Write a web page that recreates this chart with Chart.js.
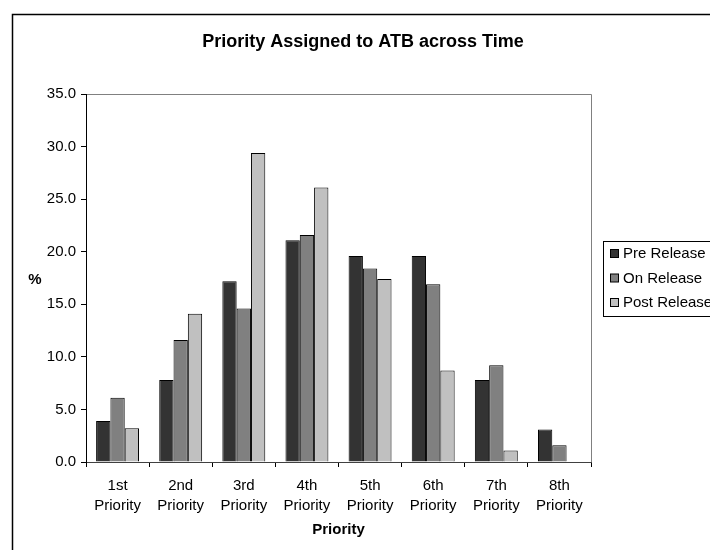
<!DOCTYPE html>
<html>
<head>
<meta charset="utf-8">
<script src="https://cdn.jsdelivr.net/npm/chart.js@4"></script>
<style>
  body { margin: 0; background: #fff; }
  canvas { display: block; }
</style>
</head>
<body>
<canvas id="grafico" width="710" height="550"></canvas>
<script>
const categorias = [
    ['1st', 'Priority'], ['2nd', 'Priority'], ['3rd', 'Priority'], ['4th', 'Priority'],
    ['5th', 'Priority'], ['6th', 'Priority'], ['7th', 'Priority'], ['8th', 'Priority']
];
const preRelease  = [3.9, 7.8, 17.2, 21.1, 19.6, 19.6, 7.8, 3.1];
const onRelease   = [6.1, 11.6, 14.6, 21.6, 18.4, 16.9, 9.2, 1.6];
const postRelease = [3.2, 14.1, 29.4, 26.1, 17.4, 8.7, 1.1, 0];
const nomesSeries = ['Pre Release', 'On Release', 'Post Release'];
const coresSeries = ['#333333', '#808080', '#c0c0c0'];

const fonte = 'Liberation Sans, Arial, sans-serif';

// bordas, titulos e legenda desenhados a mao
const extras = {
    id: 'extras',
    beforeDraw(chart) {
        const c = chart.ctx;
        const a = chart.chartArea;
        c.save();
        c.fillStyle = '#fff';
        c.fillRect(0, 0, chart.width, chart.height);
        // moldura externa
        c.strokeStyle = '#000';
        c.lineWidth = 1.5;
        c.strokeRect(12.5, 14.5, 760, 600);
        // moldura da area do grafico (topo e direita)
        c.strokeStyle = '#808080';
        c.lineWidth = 1;
        c.beginPath();
        c.moveTo(a.left, a.top + 0.5);
        c.lineTo(a.right + 0.5, a.top + 0.5);
        c.lineTo(a.right + 0.5, a.bottom);
        c.stroke();
        c.restore();
    },
    afterDraw(chart) {
        const c = chart.ctx;
        const a = chart.chartArea;
        c.save();
        c.fillStyle = '#000';
        c.textAlign = 'center';
        c.textBaseline = 'middle';
        c.font = 'bold 18px ' + fonte;
        c.fillText('Priority Assigned to ATB across Time', 363, 42);
        c.font = 'bold 15px ' + fonte;
        c.fillText('%', 35, 280);
        c.fillText('Priority', (a.left + a.right) / 2, 530);

        // legenda
        c.strokeStyle = '#000';
        c.lineWidth = 1;
        c.strokeRect(603.5, 241.5, 130, 75);
        c.font = '15px ' + fonte;
        c.textAlign = 'left';
        chart.data.datasets.forEach((ds, i) => {
            const y = 254 + i * 24.5;
            c.fillStyle = ds.backgroundColor;
            c.fillRect(610.5, y - 4.5, 8, 8);
            c.strokeRect(610.5, y - 4.5, 8, 8);
            c.fillStyle = '#000';
            c.fillText(ds.label, 623, y);
        });
        c.restore();
    }
};

const series = [preRelease, onRelease, postRelease];

const ctx = document.getElementById('grafico').getContext('2d');
const grafico = new Chart(ctx, {
    type: 'bar',
    data: {
        labels: categorias,
        datasets: series.map((valores, i) => ({
            label: nomesSeries[i],
            data: valores,
            backgroundColor: coresSeries[i],
            borderColor: '#000',
            borderWidth: 1,
            categoryPercentage: 0.68,
            barPercentage: 1.0
        }))
    },
    options: {
        responsive: false,
        animation: false,
        devicePixelRatio: 1,
        layout: { padding: { left: 0, right: 119, top: 94, bottom: 0 } },
        plugins: {
            legend: { display: false },
            title: { display: false },
            tooltip: { enabled: false }
        },
        scales: {
            x: {
                afterFit(scale) { scale.height = 88; },
                grid: { drawOnChartArea: false, color: '#000', tickLength: 5, offset: true },
                border: { display: true, color: '#404040', width: 1 },
                ticks: {
                    color: '#000',
                    padding: 9,
                    maxRotation: 0,
                    font: { family: fonte, size: 15, lineHeight: 1.33 }
                }
            },
            y: {
                min: 0,
                max: 35,
                afterFit(scale) { scale.width = 86; },
                grid: { drawOnChartArea: false, color: '#000', tickLength: 5 },
                border: { display: true, color: '#000', width: 1 },
                ticks: {
                    stepSize: 5,
                    color: '#000',
                    padding: 5,
                    font: { family: fonte, size: 15 },
                    callback: v => v.toFixed(1)
                }
            }
        }
    },
    plugins: [extras]
});
</script>
</body>
</html>
